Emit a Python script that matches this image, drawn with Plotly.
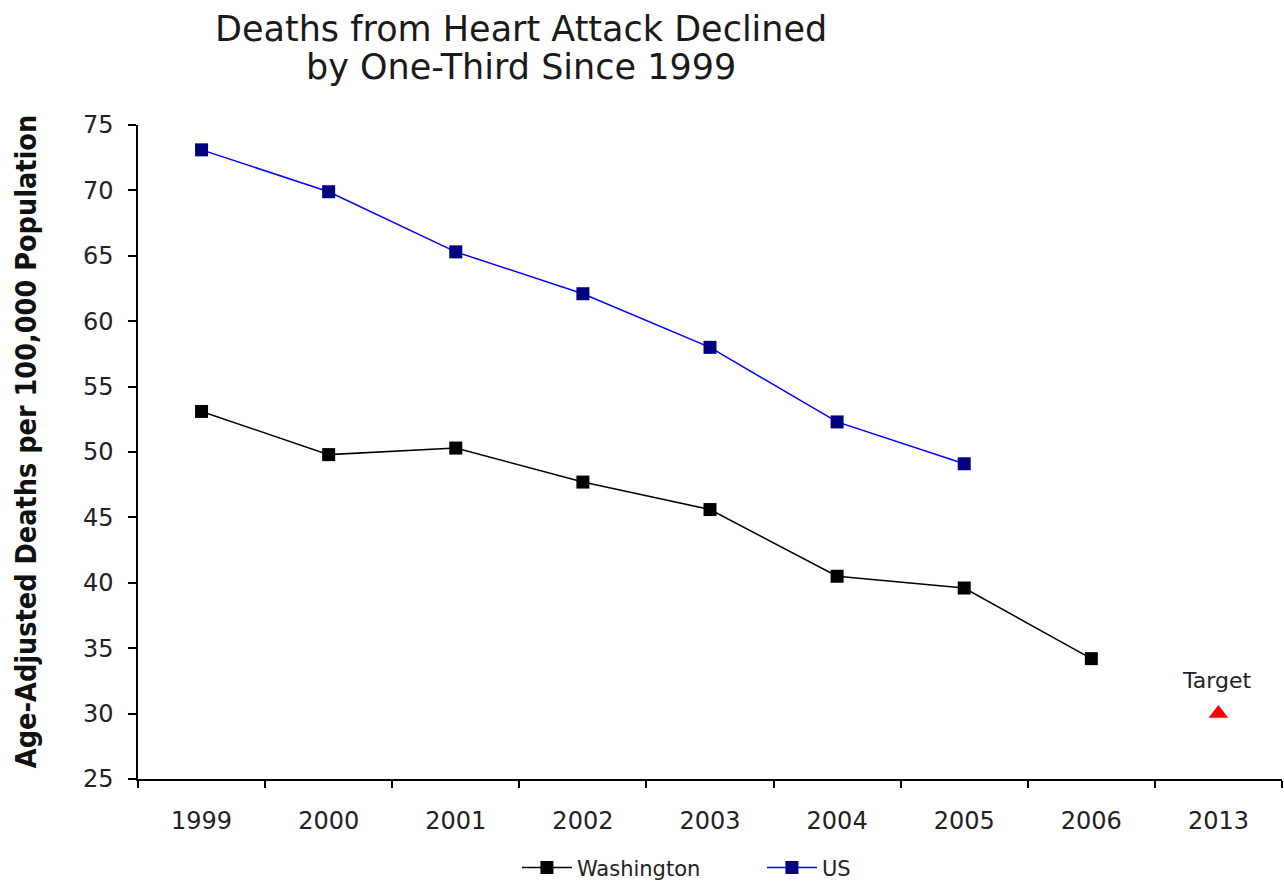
import plotly.graph_objects as go

# Data
years = ["1999", "2000", "2001", "2002", "2003", "2004", "2005", "2006", "2013"]
washington = [53.1, 49.8, 50.3, 47.7, 45.6, 40.5, 39.6, 34.2]
us = [73.1, 69.9, 65.3, 62.1, 58.0, 52.3, 49.1]
target_year = ["2013"]
target_value = [30.0]
target_label = "Target"

fig = go.Figure()

fig.add_trace(go.Scatter(
    x=years[:len(washington)], y=washington, name="Washington",
    mode="lines+markers",
    line=dict(color="#000000", width=1.5),
    marker=dict(symbol="square", size=13, color="#000000"),
))
fig.add_trace(go.Scatter(
    x=years[:len(us)], y=us, name="US",
    mode="lines+markers",
    line=dict(color="#0000FF", width=1.5),
    marker=dict(symbol="square", size=13, color="#000080"),
))
fig.add_trace(go.Scatter(
    x=target_year, y=target_value, name=target_label,
    mode="markers",
    marker=dict(symbol="triangle-up", size=17, color="#FF0000"),
    showlegend=False,
))

title_font = dict(family="DejaVu Sans", size=35, color="#1a1a1a")

fig.update_layout(
    width=1284, height=881,
    margin=dict(l=138, r=2, t=125, b=102, autoexpand=False),
    paper_bgcolor="white", plot_bgcolor="white",
    font=dict(family="DejaVu Sans", color="#222222"),
    showlegend=True,
    legend=dict(
        orientation="h", x=0.5454, xanchor="center", y=-0.136, yanchor="middle",
        font=dict(family="DejaVu Sans", size=21, color="#222222"),
        itemwidth=50, entrywidth=180, entrywidthmode="pixels",
        bgcolor="rgba(0,0,0,0)",
    ),
    annotations=[
        dict(
            text="Deaths from Heart Attack Declined",
            xref="paper", yref="paper", x=0.335, y=1.147, xanchor="center", yanchor="middle",
            showarrow=False, font=title_font,
        ),
        dict(
            text="by One-Third Since 1999",
            xref="paper", yref="paper", x=0.335, y=1.089, xanchor="center", yanchor="middle",
            showarrow=False, font=title_font,
        ),
        dict(
            text="<b>Age-Adjusted Deaths per 100,000 Population</b>",
            xref="paper", yref="paper", x=0, y=0.515, xanchor="center", yanchor="middle",
            xshift=-112, textangle=-90, showarrow=False,
            font=dict(family="DejaVu Sans Condensed", size=28.5, color="#111111"),
        ),
        # label above the target marker (category index on the x axis)
        dict(
            text=target_label, x=years.index(target_year[0]), y=target_value[0],
            xref="x", yref="y", xanchor="center", yanchor="middle",
            yshift=33, xshift=-2, showarrow=False,
            font=dict(family="DejaVu Sans", size=22, color="#222222"),
        ),
    ],
)

fig.update_xaxes(
    type="category", categoryorder="array", categoryarray=years,
    range=[-0.5, len(years) - 0.5],
    showline=True, linecolor="#000000", linewidth=1.5,
    ticks="outside", tickson="boundaries", ticklen=7, tickcolor="#000000", tickwidth=1.5,
    ticklabelstandoff=19,
    tickfont=dict(family="DejaVu Sans", size=24, color="#222222"),
    showgrid=False, zeroline=False,
)
fig.update_yaxes(
    range=[25, 75], dtick=5, tick0=25,
    showline=True, linecolor="#000000", linewidth=1.5,
    ticks="outside", ticklen=8, tickcolor="#000000", tickwidth=1.5,
    ticklabelstandoff=10,
    tickfont=dict(family="DejaVu Sans", size=24, color="#222222"),
    showgrid=False, zeroline=False,
)

fig.write_html("out.html")
